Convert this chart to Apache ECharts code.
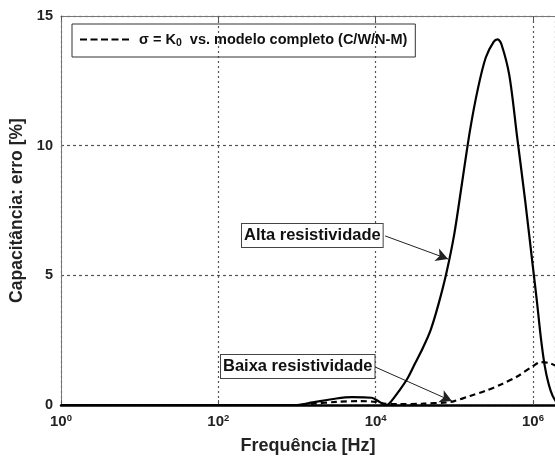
<!DOCTYPE html>
<html><head><meta charset="utf-8">
<script src="https://cdn.jsdelivr.net/npm/echarts@6/dist/echarts.min.js"></script>
<style>html,body{margin:0;padding:0;background:#fff}#c{width:555px;height:457px}</style>
</head><body><div id="c"></div>
<script>
// x values are log10(frequency in Hz)
const altaLogF = [0, 1, 2, 3.0, 3.2, 3.5, 3.7, 3.95, 4.05, 4.14, 4.2, 4.3, 4.4, 4.5, 4.6, 4.7, 4.8, 4.9, 5.0, 5.1, 5.2, 5.3, 5.4, 5.5, 5.55, 5.6, 5.7, 5.8, 5.9, 6.0, 6.05, 6.1, 6.15, 6.2, 6.25, 6.3];
const altaErr  = [0, 0, 0, 0.0, 0.1, 0.25, 0.3, 0.28, 0.12, 0.0, 0.15, 0.55, 1.0, 1.6, 2.2, 2.9, 3.9, 5.1, 6.6, 8.6, 10.6, 12.2, 13.4, 14.0, 14.1, 13.9, 12.7, 10.3, 7.9, 5.3, 4.0, 2.6, 1.5, 0.8, 0.35, 0.1];
const baixaLogF = [0, 1, 2, 3.0, 3.2, 3.5, 3.8, 4.0, 4.1, 4.3, 4.6, 4.9, 5.0, 5.2, 5.4, 5.6, 5.8, 6.0, 6.1, 6.2, 6.3];
const baixaErr  = [0, 0, 0, 0.0, 0.05, 0.12, 0.15, 0.12, 0.05, 0.03, 0.05, 0.1, 0.15, 0.35, 0.55, 0.8, 1.1, 1.5, 1.65, 1.62, 1.5];
const xTicks = [0, 2, 4, 6];
const yTicks = [0, 5, 10, 15];
const legendName = 'σ = K0 vs. modelo completo (C/W/N-M)';
const altaLabel = 'Alta resistividade';
const baixaLabel = 'Baixa resistividade';
const altaArrow = [[4.12, 6.52], [4.92, 5.63]];
const baixaArrow = [[3.99, 1.47], [4.97, 0.15]];

const zip = (a, b) => a.map((v, i) => [v, b[i]]);
const chart = echarts.init(document.getElementById('c'));
const FF = 'Liberation Sans, Arial, sans-serif';
const dashIcon = 'path://M0,0h7v2h-7z M10.5,0h7v2h-7z M21,0h7v2h-7z M31.5,0h7v2h-7z M42,0h7v2h-7z';
chart.setOption({
  animation: false,
  backgroundColor: '#fff',
  grid: { left: 61, top: 16, bottom: 52, right: 0, outerBoundsMode: 'none', containLabel: false },
  legend: {
    left: 72, top: 24,
    data: [{ name: legendName, icon: dashIcon }],
    itemWidth: 49, itemHeight: 2.5, itemGap: 6,
    padding: [8, 8, 8, 8],
    borderColor: '#333', borderWidth: 1,
    formatter: () => '{a|σ = K}{s|0}{a|  vs. modelo completo (C/W/N-M)}',
    textStyle: {
      padding: [0, 0, 0, 5],
      rich: {
        a: { fontFamily: FF, fontWeight: 'bold', fontSize: 14.5, color: '#111' },
        s: { fontFamily: FF, fontWeight: 'bold', fontSize: 10.5, color: '#111', verticalAlign: 'bottom', padding: [8, 0, 0, 0] }
      }
    }
  },
  xAxis: [{
    type: 'value', min: 0, max: 6.28, interval: 2,
    name: 'Frequência [Hz]', nameLocation: 'middle', nameGap: 32,
    nameTextStyle: { fontFamily: FF, fontWeight: 'bold', fontSize: 18, color: '#222' },
    axisLine: { lineStyle: { color: '#000', width: 2.5 } },
    axisTick: { show: true, inside: true, length: 5, lineStyle: { color: '#555' } },
    axisLabel: {
      margin: 8, showMaxLabel: false,
      formatter: v => xTicks.includes(v) ? '{b|10}{s|' + v + '}' : '',
      rich: {
        b: { fontFamily: FF, fontWeight: 'bold', fontSize: 15, color: '#222' },
        s: { fontFamily: FF, fontWeight: 'bold', fontSize: 9.5, color: '#222', verticalAlign: 'top', padding: [0, 0, 8, 0] }
      }
    },
    splitLine: { show: true, lineStyle: { color: '#555', type: [2, 3], width: 1.2 } }
  }, {
    type: 'value', min: 0, max: 6.28, interval: 2, position: 'top',
    axisLine: { show: true, lineStyle: { color: '#777', width: 1 } },
    axisTick: { show: true, inside: true, length: 5, lineStyle: { color: '#555' } },
    axisLabel: { show: false }, splitLine: { show: false }
  }],
  yAxis: {
    type: 'value', min: 0, max: 15, interval: 5,
    name: 'Capacitância: erro [%]', nameLocation: 'middle', nameGap: 28,
    nameTextStyle: { fontFamily: FF, fontWeight: 'bold', fontSize: 17.5, color: '#222' },
    axisLine: { show: true, lineStyle: { color: '#777', width: 1 } },
    axisTick: { show: false },
    axisLabel: { margin: 8, fontFamily: FF, fontWeight: 'bold', fontSize: 14.5, color: '#222', formatter: v => yTicks.includes(v) ? String(v) : '' },
    splitLine: { show: true, lineStyle: { color: '#555', type: [3, 3], width: 1.2 } }
  },
  series: [{
    name: 'Alta', type: 'line', data: zip(altaLogF, altaErr), smooth: 0.3,
    symbol: 'none', lineStyle: { color: '#000', width: 2.2 }, z: 5,
    markLine: {
      silent: true, symbol: ['none', 'arrow'], symbolSize: [10, 12],
      lineStyle: { color: '#222', width: 1, type: 'solid' }, label: { show: false },
      data: [[{ coord: altaArrow[0] }, { coord: altaArrow[1] }]]
    }
  }, {
    name: legendName, type: 'line', data: zip(baixaLogF, baixaErr), smooth: 0.3,
    symbol: 'none', lineStyle: { color: '#000', width: 2.2, type: [6, 4] }, itemStyle: { color: '#000' }, z: 4,
    markLine: {
      silent: true, symbol: ['none', 'arrow'], symbolSize: [10, 12],
      lineStyle: { color: '#222', width: 1, type: 'solid' }, label: { show: false },
      data: [[{ coord: baixaArrow[0] }, { coord: baixaArrow[1] }]]
    }
  }],
  graphic: [{
    type: 'text', left: 241, top: 223, z: 10,
    style: { text: altaLabel, fontFamily: FF, fontWeight: 'bold', fontSize: 16.5, fill: '#111',
      backgroundColor: '#fff', borderColor: '#444', borderWidth: 1, padding: [3, 2, 3, 2] }
  }, {
    type: 'text', left: 220, top: 354, z: 10,
    style: { text: baixaLabel, fontFamily: FF, fontWeight: 'bold', fontSize: 16.5, fill: '#111',
      backgroundColor: '#fff', borderColor: '#444', borderWidth: 1, padding: [3, 2, 3, 2] }
  }]
});
</script></body></html>
